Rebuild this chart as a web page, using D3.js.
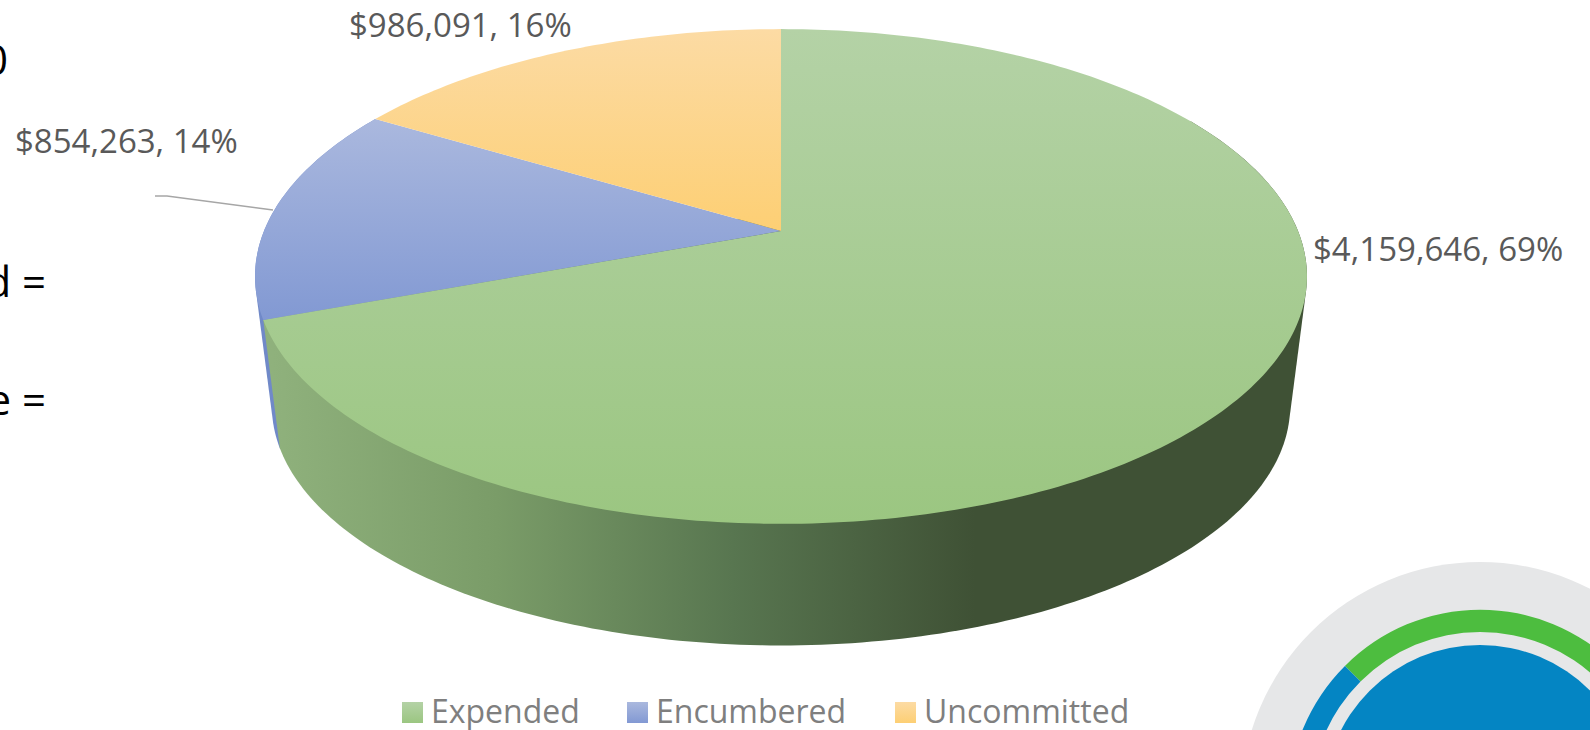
<!DOCTYPE html>
<html lang="en">
    <head>
        <meta charset="utf-8">
        <title>Budget Status</title>
        <script type="text/javascript" src="https://d3js.org/d3.v7.min.js"></script>
        <style type="text/css">
            html, body {
                margin: 0;
                padding: 0;
                background: white;
                overflow: hidden;
            }
            svg {
                display: block;
            }
            text {
                font-family: "Open Sans", sans-serif;
            }
        </style>
    </head>
    <body>
        <script type="text/javascript">

        const categories = ["Expended", "Encumbered", "Uncommitted"];
        const amounts = [4159646, 854263, 986091];
        const topColors = ["#b4d2a6", "#aab8de", "#fcdba4"];
        const bottomColors = ["#9bc681", "#8299d3", "#fdcf74"];

        // fragments of slide text cut off by the left edge
        const slideText = ["0", "d =", "e ="];

        // logo in the corner: share of the outer ring that is green
        const logoRing = [0.5, 0.5];

        const width = 1590;
        const height = 730;

        // pie geometry, tilted with a slight perspective
        const cx = 781;
        const topY = 231;
        const bottomY = 362;
        const rx = 517;
        const ry = 239;
        const shrink = 0.968;
        const tilt = 0.1838;

        function rim(a, scale, y0) {
            const u = Math.sin(a), v = -Math.cos(a);
            const w = 1 - tilt * v;
            return [cx + rx * scale * u / w, y0 + ry * scale * v / w];
        }
        const topRim = a => rim(a, 1, topY);
        const bottomRim = a => rim(a, shrink, bottomY);

        function arcAngles(start, end) {
            const n = Math.ceil((end - start) * 60);
            return d3.range(n + 1).map(i => start + (end - start) * i / n);
        }

        const line = d3.line();
        const pie = d3.pie().sort(null).value(d => d);
        const slices = pie(amounts);
        const total = d3.sum(amounts);

        const money = d3.format("$,");
        const percent = d3.format(".0%");

        const svg = d3.select("body")
                    .append("svg")
                    .attr("width", width)
                    .attr("height", height);

        const defs = svg.append("defs");

        // face gradients run over the height of each slice
        const faceBounds = [[29, 524], [120, 320], [29, 231]];
        categories.forEach((c, i) => {
            const g = defs.append("linearGradient")
                .attr("id", "face" + i)
                .attr("gradientUnits", "userSpaceOnUse")
                .attr("x1", 0).attr("x2", 0)
                .attr("y1", faceBounds[i][0])
                .attr("y2", faceBounds[i][1]);
            g.append("stop").attr("offset", 0).attr("stop-color", topColors[i]);
            g.append("stop").attr("offset", 1).attr("stop-color", bottomColors[i]);

            const s = defs.append("linearGradient")
                .attr("id", "swatch" + i)
                .attr("x1", 0).attr("x2", 0).attr("y1", 0).attr("y2", 1);
            s.append("stop").attr("offset", 0).attr("stop-color", topColors[i]);
            s.append("stop").attr("offset", 1).attr("stop-color", bottomColors[i]);
        });

        const wallGradient = defs.append("linearGradient")
            .attr("id", "wall")
            .attr("gradientUnits", "userSpaceOnUse")
            .attr("x1", 262).attr("x2", 975).attr("y1", 0).attr("y2", 0);
        [[0, "#90b27d"], [0.33, "#7a9c68"], [0.66, "#587650"], [1, "#3f5135"]].forEach(d => {
            wallGradient.append("stop").attr("offset", d[0]).attr("stop-color", d[1]);
        });

        // logo goes first, the pie does not touch it
        const logo = svg.append("g").attr("transform", "translate(1480,801)");
        logo.append("circle").attr("r", 239).attr("fill", "#e6e7e8");
        const ringStart = -Math.PI / 4;
        const ringPie = d3.pie().sort(null).startAngle(ringStart).endAngle(ringStart + 2 * Math.PI);
        const ringArc = d3.arc().innerRadius(169).outerRadius(191);
        logo.selectAll("path")
            .data(ringPie(logoRing))
            .enter()
            .append("path")
            .attr("d", ringArc)
            .attr("fill", (d, i) => i == 0 ? "#4dbd3f" : "#0485c3");
        logo.append("circle").attr("r", 156).attr("fill", "#0485c3");

        // walls: hull of the two rims gives the straight silhouette edges.
        // blue first, green over it; green only needs its front part
        function wallPath(start, end) {
            const as = arcAngles(start, end);
            return line(d3.polygonHull(as.map(topRim).concat(as.map(bottomRim)))) + "Z";
        }
        svg.append("path")
            .attr("d", wallPath(slices[1].startAngle, slices[1].endAngle))
            .attr("fill", "#7089c8");
        svg.append("path")
            .attr("d", wallPath(Math.PI / 3, slices[0].endAngle))
            .attr("fill", "url(#wall)");

        // top faces
        svg.selectAll(".face")
            .data(slices)
            .enter()
            .append("path")
            .attr("class", "face")
            .attr("d", d => line([[cx, topY]].concat(arcAngles(d.startAngle, d.endAngle).map(topRim))) + "Z")
            .attr("fill", d => "url(#face" + d.index + ")");

        // leader line of the encumbered label
        svg.append("path")
            .attr("d", line([[155, 196], [167, 196], [273, 210]]))
            .attr("fill", "none")
            .attr("stroke", "#a6a6a6")
            .attr("stroke-width", 1.3);

        // data labels
        const labelSpots = [[1313, 261], [15, 153], [349, 37]];
        svg.selectAll(".label")
            .data(amounts)
            .enter()
            .append("text")
            .attr("class", "label")
            .attr("x", (d, i) => labelSpots[i][0])
            .attr("y", (d, i) => labelSpots[i][1])
            .attr("font-size", 33)
            .attr("fill", "#595959")
            .text(d => money(d) + ", " + percent(d / total));

        // legend
        const swatchX = [402, 627, 895];
        svg.selectAll(".swatch")
            .data(categories)
            .enter()
            .append("rect")
            .attr("class", "swatch")
            .attr("x", (d, i) => swatchX[i])
            .attr("y", 702)
            .attr("width", 21)
            .attr("height", 21)
            .attr("fill", (d, i) => "url(#swatch" + i + ")");

        svg.selectAll(".legend")
            .data(categories)
            .enter()
            .append("text")
            .attr("class", "legend")
            .attr("x", (d, i) => swatchX[i] + 29)
            .attr("y", 723)
            .attr("font-size", 32)
            .attr("fill", "#7f7f7f")
            .text(d => d);

        // slide text behind the chart, clipped by the window
        const slideRight = [8, 46, 46];
        const slideBase = [75, 297, 415];
        svg.selectAll(".slide")
            .data(slideText)
            .enter()
            .append("text")
            .attr("class", "slide")
            .attr("x", (d, i) => slideRight[i])
            .attr("y", (d, i) => slideBase[i])
            .attr("text-anchor", "end")
            .attr("font-size", 42)
            .attr("fill", "black")
            .text(d => d);

        </script>
    </body>
</html>
